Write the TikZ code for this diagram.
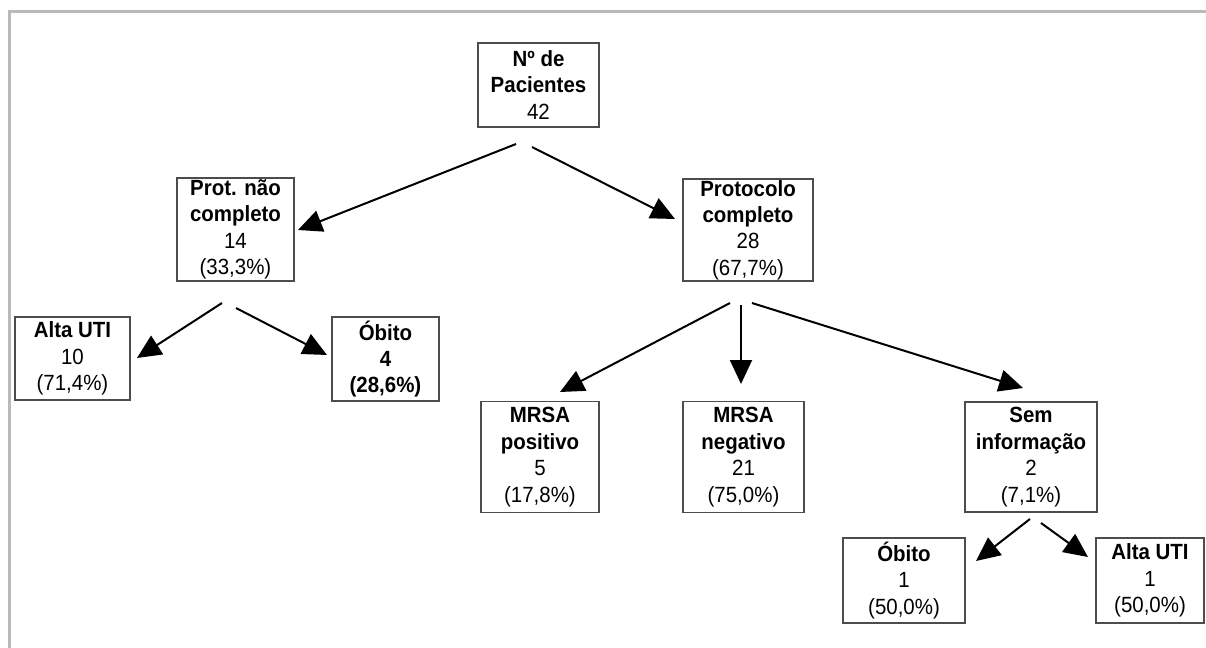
\documentclass[tikz,border=0pt]{standalone}
\usepackage{fontspec}
\setmainfont[FakeStretch=0.93]{Liberation Sans}
\usetikzlibrary{arrows.meta}
\begin{document}
\begin{tikzpicture}[x=0.5pt,y=-0.5pt,
  box/.style={draw=black!70, line width=0.7pt, align=center, inner sep=0pt, font=\fontsize{11}{13.2}\selectfont},
  arr/.style={line width=1pt, -{Triangle[length=12pt,width=11pt]}},
  frame/.style={draw=black!27, line width=1.5pt}
]
\useasboundingbox (0,0) rectangle (1206,648);
\draw[frame] (9,648) -- (9,11) -- (1206,11);

\node[box, minimum width=60.5pt, minimum height=42pt] (root) at (538.5,85) {\textbf{Nº de}\\\textbf{Pacientes}\\42};
\node[box, minimum width=58.5pt, minimum height=51.5pt] (pnc) at (235.5,229.5) {\textbf{Prot. não}\\\textbf{completo}\\14\\(33,3\%)};
\node[box, minimum width=65pt, minimum height=51pt] (pc) at (748,230) {\textbf{Protocolo}\\\textbf{completo}\\28\\(67,7\%)};
\node[box, minimum width=57.5pt, minimum height=41.5pt] (alta1) at (72.5,358.5) {\textbf{Alta UTI}\\10\\(71,4\%)};
\node[box, minimum width=53.5pt, minimum height=42pt] (obito4) at (385.5,359) {\textbf{Óbito}\\\textbf{4}\\\textbf{(28,6\%)}};
\node[box, minimum width=59pt, minimum height=55.5pt] (mpos) at (540,457) {\textbf{MRSA}\\\textbf{positivo}\\5\\(17,8\%)};
\node[box, minimum width=60.5pt, minimum height=55.5pt] (mneg) at (743.5,457) {\textbf{MRSA}\\\textbf{negativo}\\21\\(75,0\%)};
\node[box, minimum width=66pt, minimum height=55pt] (sem) at (1031,457) {\textbf{Sem}\\\textbf{informação}\\2\\(7,1\%)};
\node[box, minimum width=61pt, minimum height=42.5pt] (obito1) at (904,580.5) {\textbf{Óbito}\\1\\(50,0\%)};
\node[box, minimum width=54pt, minimum height=42.5pt] (alta2) at (1150,580.5) {\textbf{Alta UTI}\\1\\(50,0\%)};

\coordinate (s1) at (516,144);  \coordinate (e1) at (298,230);
\coordinate (s2) at (532,147);  \coordinate (e2) at (675,219);
\coordinate (s3) at (222,303);  \coordinate (e3) at (137,358);
\coordinate (s4) at (236,308);  \coordinate (e4) at (327,355);
\coordinate (s5) at (730,303);  \coordinate (e5) at (560,392);
\coordinate (s6) at (741,305);  \coordinate (e6) at (741,384);
\coordinate (s7) at (752,303);  \coordinate (e7) at (1023,388);
\coordinate (s8) at (1030,519); \coordinate (e8) at (976,561);
\coordinate (s9) at (1041,523); \coordinate (e9) at (1088,557);

\draw[arr] (s1) -- (e1);
\draw[arr] (s2) -- (e2);
\draw[arr] (s3) -- (e3);
\draw[arr] (s4) -- (e4);
\draw[arr] (s5) -- (e5);
\draw[arr] (s6) -- (e6);
\draw[arr] (s7) -- (e7);
\draw[arr] (s8) -- (e8);
\draw[arr] (s9) -- (e9);
\end{tikzpicture}
\end{document}
